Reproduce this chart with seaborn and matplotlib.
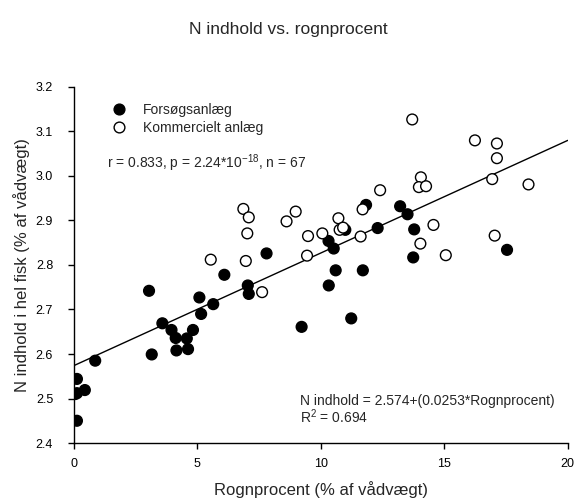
import pandas as pd
import numpy as np
import matplotlib
matplotlib.use("Agg")
import matplotlib.pyplot as plt
import seaborn as sns

# Forsøgsanlæg (filled)
fors_x = [0.12, 0.12, 0.44, 0.12, 0.05, 0.86, 3.04, 3.15, 3.58, 3.95, 4.12, 4.15,
          4.57, 4.62, 4.82, 5.08, 5.15, 5.64, 6.09, 7.04, 7.08, 9.22, 7.80,
          11.83, 13.21, 13.51, 10.99, 12.30, 10.31, 10.52, 13.78, 13.74,
          17.54, 10.60, 11.70, 10.32, 11.23]
fors_y = [2.544, 2.512, 2.519, 2.450, 2.510, 2.585, 2.742, 2.599, 2.669, 2.654, 2.636, 2.608,
          2.635, 2.611, 2.654, 2.727, 2.690, 2.712, 2.778, 2.754, 2.735, 2.661, 2.826,
          2.935, 2.932, 2.914, 2.879, 2.883, 2.854, 2.837, 2.880, 2.817,
          2.834, 2.788, 2.788, 2.754, 2.680]

# Kommercielt anlæg (open)
komm_x = [7.62, 5.54, 6.96, 6.86, 7.08, 7.02, 8.61, 8.98, 9.48, 9.44,
          13.70, 16.24, 17.13, 17.13, 16.94, 18.41, 14.05, 13.97, 14.26, 12.40,
          11.69, 10.71, 10.76, 10.90, 10.06, 11.61, 14.56, 14.03, 15.06, 17.04]
komm_y = [2.739, 2.812, 2.809, 2.926, 2.907, 2.871, 2.898, 2.920, 2.865, 2.821,
          3.127, 3.080, 3.073, 3.040, 2.993, 2.981, 2.997, 2.975, 2.977, 2.968,
          2.925, 2.905, 2.879, 2.884, 2.871, 2.864, 2.890, 2.848, 2.822, 2.866]

groups = ["Forsøgsanlæg", "Kommercielt anlæg"]
intercept = 2.574
slope = 0.0253
line_x = [0, 20]

df = pd.DataFrame({
    "x": fors_x + komm_x,
    "y": fors_y + komm_y,
    "Gruppe": [groups[0]] * len(fors_x) + [groups[1]] * len(komm_x),
})

sns.set_style("ticks")
plt.rcParams["font.family"] = ["Liberation Sans", "DejaVu Sans"]

fig = plt.figure(figsize=(5.77, 4.99), dpi=100)
ax = fig.add_axes([0.1282, 0.1122, 0.8558, 0.7135])

fit = pd.DataFrame({"x": line_x, "y": [intercept + slope * v for v in line_x]})
sns.lineplot(data=fit, x="x", y="y", color="black", linewidth=1.0, ax=ax, zorder=1)

sns.scatterplot(data=df, x="x", y="y", hue="Gruppe", hue_order=groups,
                palette={groups[0]: "black", groups[1]: "white"},
                edgecolor="black", linewidth=1.0, s=60, ax=ax, zorder=3)

ax.set_xlim(0, 20)
ax.set_ylim(2.4, 3.2)
ax.set_xticks([0, 5, 10, 15, 20])
ax.set_yticks(np.round(np.arange(2.4, 3.21, 0.1), 1))
ax.yaxis.set_major_formatter(matplotlib.ticker.FormatStrFormatter("%.1f"))
ax.tick_params(direction="out", length=4, width=1, labelsize=9, colors="black")
ax.tick_params(axis="x", pad=7)
ax.tick_params(axis="y", pad=11)
for sp in ["left", "bottom"]:
    ax.spines[sp].set_linewidth(1.0)
    ax.spines[sp].set_color("black")
sns.despine(ax=ax)
ax.grid(False)

ax.set_xlabel("Rognprocent (% af vådvægt)", fontsize=12, labelpad=8)
ax.set_ylabel("N indhold i hel fisk (% af vådvægt)", fontsize=12, labelpad=4)
fig.suptitle("N indhold vs. rognprocent", fontsize=12.5, x=0.5, y=0.955)

sns.move_legend(ax, loc="upper left", bbox_to_anchor=(0.052, 0.972), frameon=False,
                title=None, fontsize=10, handletextpad=0.7, labelspacing=0.3,
                borderaxespad=0)

ax.text(0.066, 0.785, r"r = 0.833, p = 2.24*10$^{\mathregular{-18}}$, n = 67",
        transform=ax.transAxes, fontsize=10, va="center", ha="left")
ax.text(0.458, 0.118, "N indhold = 2.574+(0.0253*Rognprocent)",
        transform=ax.transAxes, fontsize=10, va="center", ha="left")
ax.text(0.458, 0.074, r"R$^{\mathregular{2}}$ = 0.694",
        transform=ax.transAxes, fontsize=10, va="center", ha="left")

fig.savefig("out.png", dpi=100)
